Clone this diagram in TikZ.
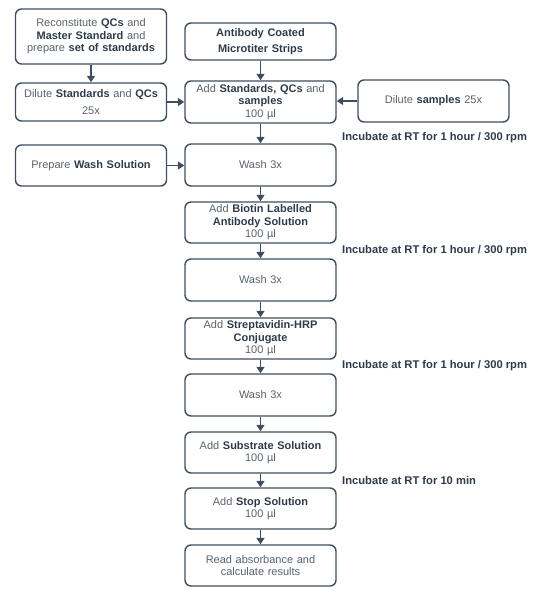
\documentclass[tikz,border=0pt]{standalone}
\usepackage{fontspec}
\setmainfont{Liberation Sans}
\usepackage{tikz}
\usetikzlibrary{arrows.meta, positioning}
\usepackage{xcolor}
\definecolor{slateline}{HTML}{3E4E60}
\definecolor{greytext}{HTML}{5A626B}
\definecolor{boldtext}{HTML}{2E3B4A}
\newcommand{\hl}[1]{\textbf{\color{boldtext}#1}}

\begin{document}
\begin{tikzpicture}[x=1pt, y=-1pt,
    stepbox/.style={draw=slateline, line width=1.4pt, rounded corners=6pt, minimum width=151pt,
      text width=149pt, align=center, inner sep=1pt, text=greytext, font=\fontsize{11}{12.5}\selectfont},
    flow/.style={draw=slateline, line width=1.4pt, -{Triangle[width=8pt,length=6.5pt]}},
    note/.style={anchor=west, inner sep=0pt, text=boldtext, font=\bfseries\fontsize{11.2}{13}\selectfont}]
    \useasboundingbox (0,0) rectangle (558,599);

    % main column
    \node[stepbox, minimum height=37pt] (coated) at (260.5,41.5) {\hl{Antibody Coated}\\[4pt]\hl{Microtiter Strips}};
    \node[stepbox, minimum height=42pt] (addstd) at (260.5,102) {Add \hl{Standards, QCs} and\\\hl{samples}\\100 µl};
    \node[stepbox, minimum height=42pt] (washa) at (260.5,165) {Wash 3x};
    \node[stepbox, minimum height=41pt] (biotin) at (260.5,222.5) {Add \hl{Biotin Labelled}\\\hl{Antibody Solution}\\100 µl};
    \node[stepbox, minimum height=42pt] (washb) at (260.5,280) {Wash 3x};
    \node[stepbox, minimum height=41pt] (strep) at (260.5,338.5) {Add \hl{Streptavidin-HRP}\\\hl{Conjugate}\\100 µl};
    \node[stepbox, minimum height=42pt] (washc) at (260.5,395) {Wash 3x};
    \node[stepbox, minimum height=41pt] (subst) at (260.5,452.5) {Add \hl{Substrate Solution}\\100 µl};
    \node[stepbox, minimum height=41pt] (stopsol) at (260.5,508.5) {Add \hl{Stop Solution}\\100 µl};
    \node[stepbox, minimum height=41pt] (readout) at (260.5,565.5) {Read absorbance and\\calculate results};

    % side boxes
    \node[stepbox, minimum width=150pt, minimum height=55pt] (recon) at (91,36.5) {Reconstitute \hl{QCs} and\\\hl{Master Standard} and\\prepare \hl{set of standards}};
    \node[stepbox, minimum width=150pt, minimum height=38pt] (dilstd) at (91,102) {Dilute \hl{Standards} and \hl{QCs}\\[5pt]25x};
    \node[stepbox, minimum width=150pt, minimum height=41pt] (prepwash) at (91,165.5) {Prepare \hl{Wash Solution}};
    \node[stepbox, minimum height=42pt] (dilsmp) at (433.5,101) {Dilute \hl{samples} 25x};

    % incubation notes
    \node[note] (inca) at (342,138) {Incubate at RT for 1 hour / 300 rpm};
    \node[note] (incb) at (342,251) {Incubate at RT for 1 hour / 300 rpm};
    \node[note] (incc) at (342,366) {Incubate at RT for 1 hour / 300 rpm};
    \node[note] (incd) at (342,480) {Incubate at RT for 10 min};

    % connectors
    \draw[flow] (coated) -- (addstd);
    \draw[flow] (addstd) -- (washa);
    \draw[flow] (washa) -- (biotin);
    \draw[flow] (biotin) -- (washb);
    \draw[flow] (washb) -- (strep);
    \draw[flow] (strep) -- (washc);
    \draw[flow] (washc) -- (subst);
    \draw[flow] (subst) -- (stopsol);
    \draw[flow] (stopsol) -- (readout);
    \draw[flow] (recon) -- (dilstd);
    \draw[flow] (dilstd.east) -- (dilstd.east -| addstd.west);
    \draw[flow] (prepwash.east) -- (prepwash.east -| washa.west);
    \draw[flow] (dilsmp.west) -- (dilsmp.west -| addstd.east);
\end{tikzpicture}
\end{document}
